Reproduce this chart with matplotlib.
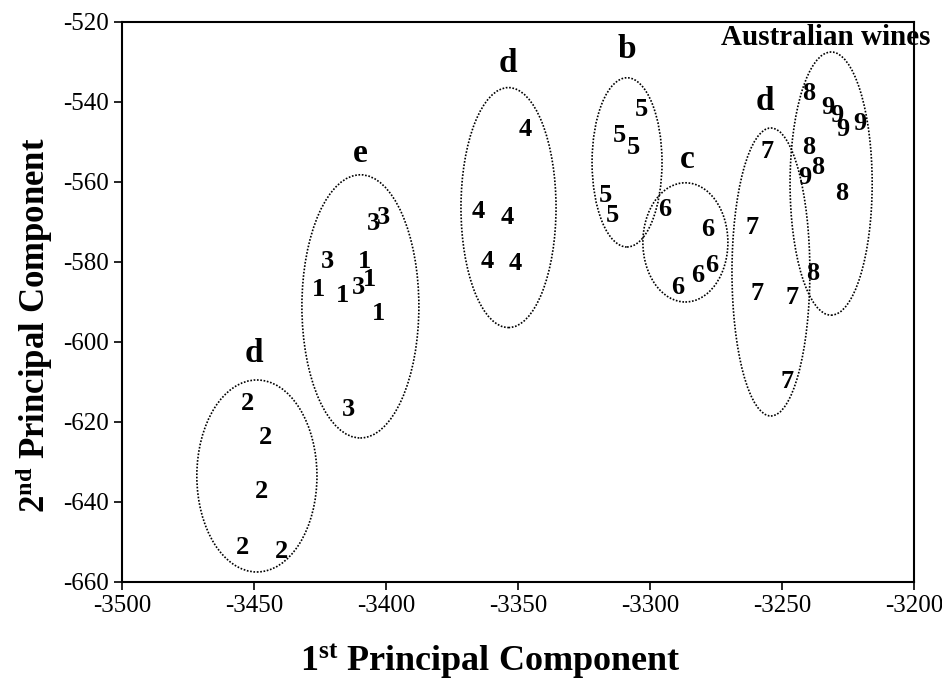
import matplotlib
matplotlib.use('Agg')
import matplotlib.pyplot as plt
from matplotlib.patches import Ellipse

plt.rcParams['font.family'] = ['Liberation Serif', 'DejaVu Serif']
plt.rcParams['mathtext.fontset'] = 'custom'
plt.rcParams['mathtext.rm'] = 'Liberation Serif:bold'
plt.rcParams['mathtext.it'] = 'Liberation Serif:bold'
plt.rcParams['mathtext.bf'] = 'Liberation Serif:bold'
plt.rcParams['axes.unicode_minus'] = False

# sample scores, one list per wine group (label drawn at each point)
g1_x = [-3425.4, -3416.3, -3406.1, -3408.0, -3403.0]
g1_y = [-587.0, -588.3, -584.5, -580.0, -592.8]
g2_x = [-3452.3, -3445.5, -3447.0, -3454.2, -3439.4]
g2_y = [-615.3, -624.0, -637.5, -651.3, -652.5]
g3_x = [-3422.3, -3410.6, -3404.9, -3401.1, -3414.4]
g3_y = [-580.0, -586.3, -570.3, -569.0, -617.0]
g4_x = [-3347.3, -3365.1, -3354.2, -3361.7, -3351.1]
g4_y = [-547.0, -567.5, -569.0, -580.0, -580.3]
g5_x = [-3303.4, -3311.4, -3306.1, -3316.7, -3314.4]
g5_y = [-541.8, -548.3, -551.5, -563.5, -568.5]
g6_x = [-3294.3, -3278.0, -3276.5, -3281.8, -3289.4]
g6_y = [-567.0, -572.0, -580.8, -583.3, -586.3]
g7_x = [-3255.7, -3261.4, -3259.5, -3246.2, -3248.1]
g7_y = [-552.5, -571.5, -587.8, -588.8, -610.0]
g8_x = [-3239.8, -3239.8, -3236.4, -3227.3, -3238.3]
g8_y = [-538.0, -551.5, -556.3, -562.8, -582.8]
g9_x = [-3232.6, -3229.2, -3226.9, -3220.4, -3241.3]
g9_y = [-541.5, -543.3, -547.0, -545.5, -558.8]

groups = [('1', g1_x, g1_y), ('2', g2_x, g2_y), ('3', g3_x, g3_y),
          ('4', g4_x, g4_y), ('5', g5_x, g5_y), ('6', g6_x, g6_y),
          ('7', g7_x, g7_y), ('8', g8_x, g8_y), ('9', g9_x, g9_y)]

# cluster ellipses: centre x, centre y, width, height
ell_cx = [-3448.9, -3409.7, -3353.6, -3308.7, -3286.6, -3254.2, -3231.4]
ell_cy = [-633.5, -591.1, -566.4, -555.1, -575.1, -582.5, -560.4]
ell_w = [45.5, 44.3, 36.0, 26.5, 32.2, 29.5, 31.1]
ell_h = [48.0, 65.8, 60.0, 42.3, 29.8, 72.0, 65.8]

# cluster letters
lab_text = ['d', 'e', 'd', 'b', 'c', 'd']
lab_x = [-3450.0, -3409.8, -3353.8, -3308.7, -3286.0, -3256.4]
lab_y = [-602.8, -552.8, -530.3, -527.0, -554.5, -540.0]

fig = plt.figure(figsize=(9.42, 6.85), dpi=100)
ax = fig.add_axes([0.1295, 0.1504, 0.8408, 0.8175])

for lab, xs, ys in groups:
    for x, y in zip(xs, ys):
        ax.text(x, y, lab, fontsize=19, fontweight='bold', ha='center', va='center')

for cx, cy, w, h in zip(ell_cx, ell_cy, ell_w, ell_h):
    ax.add_patch(Ellipse((cx, cy), w, h, fill=False, edgecolor='black',
                         linewidth=1.2, linestyle=(0, (1, 1))))

for t, x, y in zip(lab_text, lab_x, lab_y):
    ax.text(x, y, t, fontsize=24, fontweight='bold', ha='center', va='center')

ax.text(-3233.5, -523.8, 'Australian wines', fontsize=21, fontweight='bold',
        ha='center', va='center', clip_on=False)

ax.set_xlim(-3500, -3200)
ax.set_ylim(-660, -520)
ax.set_xticks(range(-3500, -3199, 50))
ax.set_yticks(range(-660, -519, 20))
ax.tick_params(direction='out', length=6, width=1.2, labelsize=18,
               top=False, right=False)
for s in ax.spines.values():
    s.set_linewidth(1.5)

fig.text(0.520, 0.0204, r'1$^{\mathrm{st}}$ Principal Component', fontsize=26,
         fontweight='bold', ha='center', va='baseline')
fig.text(0.036, 0.5255, r'2$^{\mathrm{nd}}$ Principal Component', fontsize=25,
         fontweight='bold', ha='center', va='center', rotation=90)

fig.savefig('out.png', dpi=100)
